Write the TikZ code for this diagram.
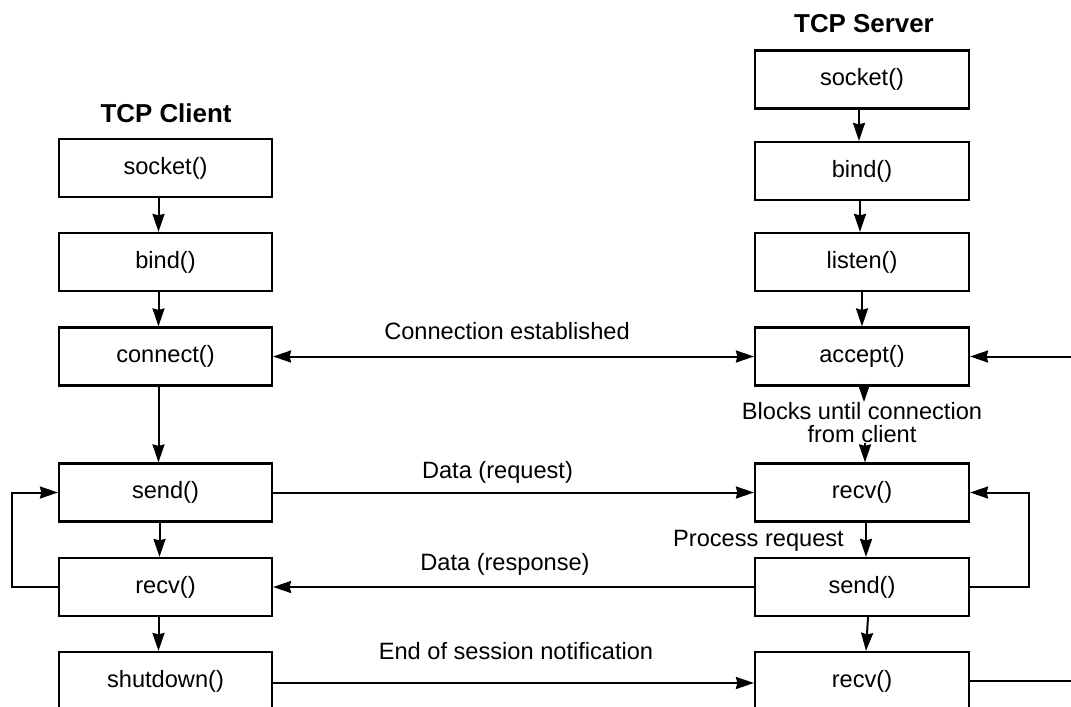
\documentclass[tikz,border=0pt]{standalone}
\usepackage{fontspec}
\setmainfont{Liberation Sans}
\usetikzlibrary{arrows.meta}
\begin{document}
\begin{tikzpicture}[x=1bp,y=-1bp,
  >={Stealth[length=18bp,width=12bp,inset=1.5bp]},
  call/.style={draw, line width=2.2bp, minimum height=58bp, inner sep=0pt,
    font=\fontsize{23.7pt}{28pt}\selectfont},
  cli/.style={call, minimum width=213bp},
  srv/.style={call, minimum width=214bp},
  lbl/.style={inner sep=0pt, anchor=base, font=\fontsize{23.7pt}{23.1pt}\selectfont},
  heading/.style={inner sep=0pt, anchor=base, font=\fontsize{26pt}{30pt}\selectfont\bfseries},
  flow/.style={line width=2bp, ->},
  link/.style={line width=2bp}]
\useasboundingbox (0,0) rectangle (1071,707);
\clip (0,0) rectangle (1071,707);

% column headings
\node[heading] (tc) at (166,123) {TCP Client};
\node[heading] (ts) at (864,33) {TCP Server};

% client calls
\node[cli] (cso) at (165.5,168)   {socket()};
\node[cli] (cb)  at (165.5,262)   {bind()};
\node[cli] (cc)  at (165.5,356.5) {connect()};
\node[cli] (cs)  at (165.5,492.5) {send()};
\node[cli] (cr)  at (165.5,587)   {recv()};
\node[cli] (csd) at (165.5,681)   {shutdown()};

% server calls
\node[srv] (sso) at (862,79.5)  {socket()};
\node[srv] (sb)  at (862,171)   {bind()};
\node[srv] (sl)  at (862,262)   {listen()};
\node[srv] (sa)  at (862,356.5) {accept()};
\node[srv] (sr)  at (862,492.5) {recv()};
\node[srv] (ss)  at (862,587)   {send()};
\node[srv] (sr2) at (862,681)   {recv()};

% notes and message labels
\node[lbl, anchor=north, align=center] (blk) at (862,402)
  {Blocks until connection\\from client};
\node[lbl] (lce) at (507,339)   {Connection established};
\node[lbl] (lrq) at (497.5,478) {Data (request)};
\node[lbl] (lpr) at (758.5,546) {Process request};
\node[lbl] (lrs) at (505,570)   {Data (response)};
\node[lbl] (les) at (516,659)   {End of session notification};

% loop and edge helpers
\coordinate (cl)  at (12,540);
\coordinate (sl2) at (1029,540);
\coordinate (re1) at (1071,356.5);
\coordinate (re2) at (1071,681);

% client sequence
\draw[flow] ([xshift=-7bp]cso.south) -- ([xshift=-7bp]cb.north);
\draw[flow] ([xshift=-7bp]cb.south)  -- ([xshift=-7bp]cc.north);
\draw[flow] ([xshift=-7bp]cc.south)  -- ([xshift=-7bp]cs.north);
\draw[flow] ([xshift=-6bp]cs.south)  -- ([xshift=-6bp]cr.north);
\draw[flow] ([xshift=-7bp]cr.south)  -- ([xshift=-7bp]csd.north);
\draw[flow] (cr.west) -- (cr.west -| cl) |- (cs.west);

% server sequence
\draw[flow] ([xshift=-3bp]sso.south) -- ([xshift=-3bp]sb.north);
\draw[flow] ([xshift=-2bp]sb.south)  -- ([xshift=-2bp]sl.north);
\draw[flow] (sl.south) -- (sa.north);
\draw[flow] ([xshift=2bp]sa.south) -- ([xshift=2bp]sa.south |- blk.north);
\draw[flow] ([xshift=3bp]sr.north |- blk.south) -- ([xshift=3bp]sr.north);
\draw[flow] ([xshift=4bp]sr.south) -- ([xshift=4bp]ss.north);
\draw[flow] ([xshift=6bp]ss.south) -- ([xshift=4bp]sr2.north);
\draw[flow] (ss.east) -- (ss.east -| sl2) |- (sr.east);
\draw[flow] (re1) -- (sa.east);
\draw[link] (sr2.east) -- (re2);

% messages between client and server
\draw[link, <->] (cc.east) -- (sa.west);
\draw[flow] (cs.east) -- (sr.west);
\draw[flow] (ss.west) -- (cr.west -| cr.east);
\draw[flow] ([yshift=-2bp]csd.east) -- ([yshift=-2bp]sr2.west);
\end{tikzpicture}
\end{document}
